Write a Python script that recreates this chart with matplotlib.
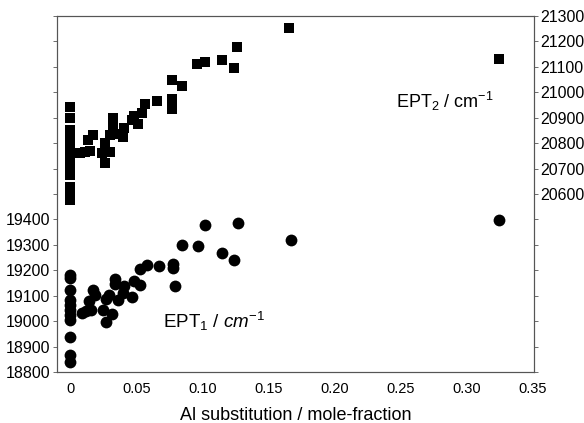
import matplotlib.pyplot as plt
from matplotlib.ticker import FuncFormatter, MultipleLocator

plt.rcParams['font.family'] = ['Liberation Sans', 'DejaVu Sans']
plt.rcParams['mathtext.fontset'] = 'custom'
plt.rcParams['mathtext.rm'] = 'Liberation Sans'
plt.rcParams['mathtext.it'] = 'Liberation Sans:italic'

# EPT1 (circles, left axis)
ept1_x = [0, 0, 0, 0, 0, 0, 0, 0, 0, 0, 0,
          0.0086, 0.012, 0.016, 0.0144, 0.017, 0.019, 0.025, 0.027, 0.027,
          0.0296, 0.032, 0.034, 0.034, 0.036, 0.040, 0.041, 0.047, 0.0486,
          0.053, 0.053, 0.058, 0.067, 0.078, 0.078, 0.079, 0.0845, 0.0966,
          0.102, 0.115, 0.124, 0.127, 0.167, 0.325]
ept1_y = [19180, 19168, 19122, 19082, 19063, 19043, 19024, 19004, 18937, 18867, 18839,
          19033, 19040, 19043, 19080, 19124, 19102, 19043, 18995, 19086,
          19102, 19030, 19165, 19147, 19082, 19112, 19140, 19095, 19157,
          19141, 19207, 19220, 19216, 19225, 19210, 19137, 19298, 19294,
          19380, 19268, 19239, 19387, 19320, 19399]

# EPT2 (squares, right axis)
ept2_x = [0, 0, 0, 0, 0, 0, 0, 0, 0, 0, 0, 0,
          0.0074, 0.011, 0.015, 0.0137, 0.0175, 0.026, 0.024, 0.030, 0.026,
          0.0326, 0.0326, 0.030, 0.035, 0.040, 0.041, 0.0465, 0.0486, 0.054,
          0.0516, 0.057, 0.0655, 0.077, 0.0845, 0.077, 0.077, 0.096, 0.102,
          0.115, 0.124, 0.126, 0.166, 0.325]
ept2_y = [20944, 20899, 20853, 20829, 20794, 20775, 20755, 20716, 20674, 20629, 20606, 20578,
          20762, 20764, 20768, 20814, 20833, 20801, 20762, 20764, 20722,
          20899, 20873, 20833, 20836, 20823, 20860, 20892, 20908, 20918,
          20876, 20954, 20967, 21049, 21023, 20973, 20936, 21112, 21120,
          21127, 21095, 21177, 21254, 21130]

x_ticks = [0, 0.05, 0.10, 0.15, 0.20, 0.25, 0.30, 0.35]

spine_col = '#555555'

fig = plt.figure(figsize=(5.84, 4.23), dpi=100)
ax = fig.add_axes([0.0976, 0.1206, 0.8164, 0.8414])
ax2 = ax.twinx()

ax.plot(ept1_x, ept1_y, 'o', color='black', markersize=8.5, markeredgewidth=0)
ax2.plot(ept2_x, ept2_y, 's', color='black', markersize=7.2, markeredgewidth=0)

ax.set_xlim(-0.01, 0.351)
ax.set_ylim(18800, 20200)
ax2.set_ylim(19900, 21300)

ax.set_xticks(x_ticks)
ax.xaxis.set_major_formatter(FuncFormatter(lambda v, p: '0' if abs(v) < 1e-9 else f'{v:.2f}'))
ax.yaxis.set_major_locator(MultipleLocator(100))
ax.yaxis.set_major_formatter(FuncFormatter(lambda v, p: f'{v:.0f}' if v <= 19400 else ''))
ax2.yaxis.set_major_locator(MultipleLocator(100))
ax2.yaxis.set_major_formatter(FuncFormatter(lambda v, p: f'{v:.0f}' if v >= 20600 else ''))

ax.tick_params(axis='x', length=0, pad=7, labelsize=10.5, colors='black')
ax.tick_params(axis='y', direction='out', length=3, width=0.6, color=spine_col,
               pad=2, labelsize=11.5)
ax2.tick_params(axis='y', direction='out', length=3, width=0.6, color=spine_col,
                pad=2, labelsize=11.5)

for a in (ax, ax2):
    for s in a.spines.values():
        s.set_color(spine_col)
        s.set_linewidth(0.8)

ax.set_xlabel('Al substitution / mole-fraction', fontsize=13, labelpad=8)

ax.text(0.109, 19000, r'EPT$_1$ $/\ cm^{-1}$', fontsize=13.5, ha='center', va='center')
ax2.text(0.284, 20965, r'EPT$_2$ / cm$^{-1}$', fontsize=13, ha='center', va='center')

fig.savefig('out.png', dpi=100)
